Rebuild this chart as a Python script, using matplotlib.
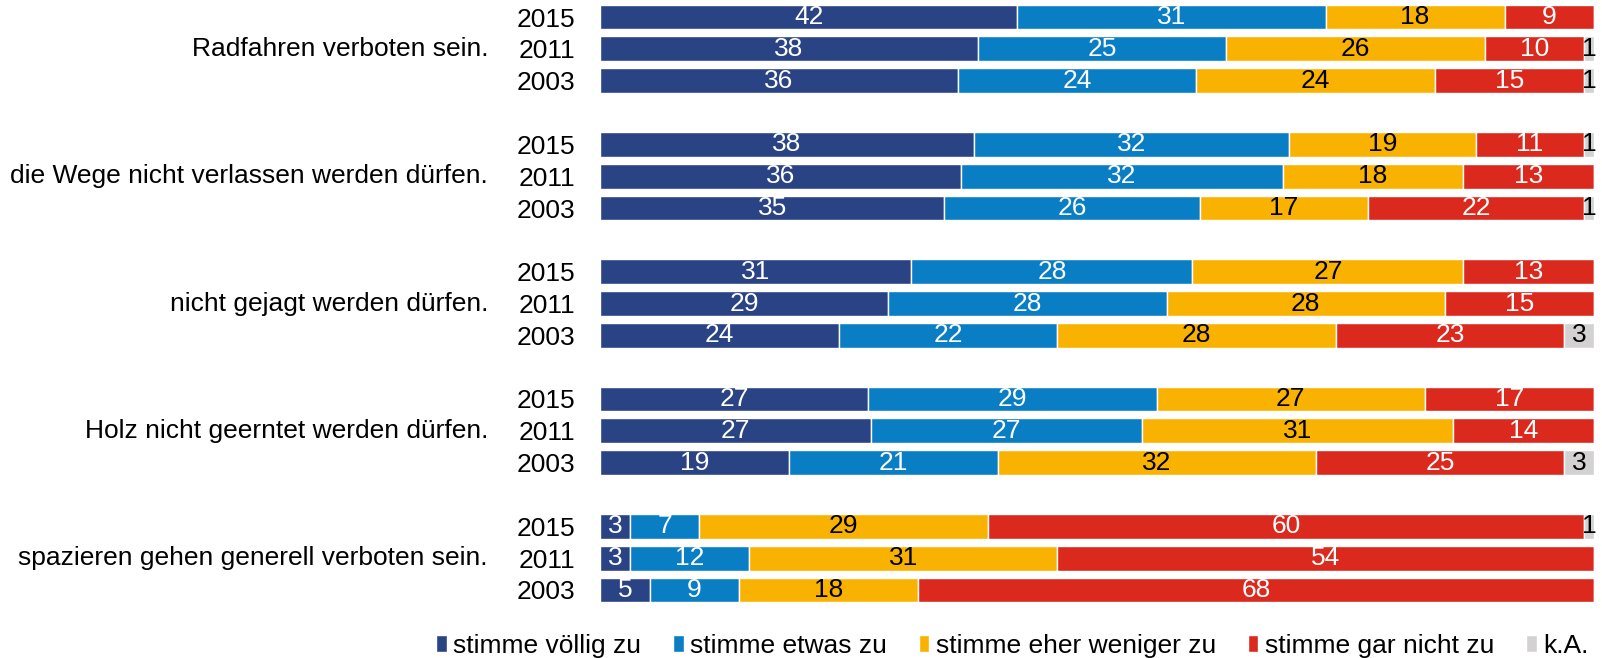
import numpy as np
import matplotlib.pyplot as plt

plt.rcParams['font.family'] = ['Liberation Sans', 'DejaVu Sans']

# Daten (Prozent), je Gruppe: 2015, 2011, 2003
gruppen = ["Radfahren verboten sein.",
           "die Wege nicht verlassen werden dürfen.",
           "nicht gejagt werden dürfen.",
           "Holz nicht geerntet werden dürfen.",
           "spazieren gehen generell verboten sein."]
jahre = ["2015", "2011", "2003"]
kategorien = ["stimme völlig zu", "stimme etwas zu", "stimme eher weniger zu",
              "stimme gar nicht zu", "k.A."]

voellig = [42, 38, 36,  38, 36, 35,  31, 29, 24,  27, 27, 19,  3, 3, 5]
etwas   = [31, 25, 24,  32, 32, 26,  28, 28, 22,  29, 27, 21,  7, 12, 9]
weniger = [18, 26, 24,  19, 18, 17,  27, 28, 28,  27, 31, 32,  29, 31, 18]
garnicht = [9, 10, 15,  11, 13, 22,  13, 15, 23,  17, 14, 25,  60, 54, 68]
ka      = [0, 1, 1,     1, 0, 1,     0, 0, 3,     0, 0, 3,     1, 0, 0]

farben = ["#2A4384", "#0A7EC5", "#F9B200", "#DC291E", "#D3D1D1"]
textfarben = ["white", "white", "black", "white", "black"]

werte = np.array([voellig, etwas, weniger, garnicht, ka], dtype=float)
anteile = werte / werte.sum(axis=0) * 100

# Position: 3 Balken je Gruppe + eine Leerzeile
pos = np.array([4 * g + i for g in range(len(gruppen)) for i in range(3)])

fig = plt.figure(figsize=(16.02, 6.58), dpi=100)
ax = fig.add_axes([600 / 1602, 1 - 605.9 / 658, 994 / 1602, 604.8 / 658])

links = np.zeros(len(pos))
for k in range(len(kategorien)):
    bars = ax.barh(pos, anteile[k], left=links, height=0.78, color=farben[k],
                   edgecolor="white", linewidth=1, label=kategorien[k])
    for j, b in enumerate(bars):
        if werte[k, j] > 0:
            ax.text(links[j] + anteile[k, j] / 2, pos[j], f"{int(werte[k, j])}",
                    ha="center", va="center", fontsize=19, color=textfarben[k])
    links += anteile[k]

ax.set_xlim(0, 100)
ax.set_ylim(18.5, -0.5)
ax.set_yticks(pos)
ax.set_yticklabels(jahre * len(gruppen), fontsize=19)
ax.tick_params(axis="y", length=0, pad=18)
ax.set_xticks([])
for s in ax.spines.values():
    s.set_visible(False)

for g, name in enumerate(gruppen):
    ax.text(-112 / 994, 4 * g + 1, name, transform=ax.get_yaxis_transform(),
            ha="right", va="center", fontsize=19)

fig.legend(loc="center", bbox_to_anchor=(0.632, 0.018), ncol=5, frameon=False,
           fontsize=19, handlelength=0.4, handleheight=0.6, handletextpad=0.25,
           columnspacing=1.2)

fig.savefig("out.png", dpi=100)
